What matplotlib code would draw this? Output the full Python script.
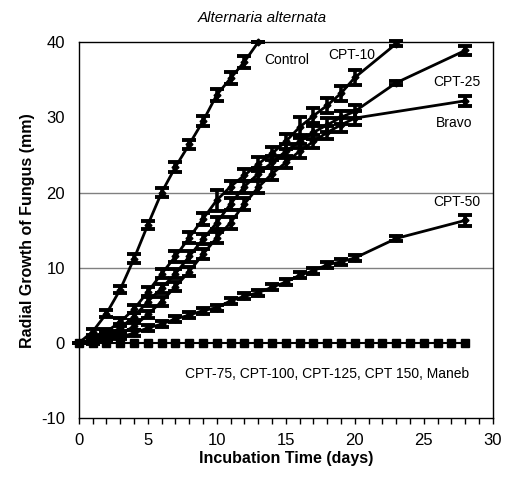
import numpy as np
import matplotlib
matplotlib.use("Agg")
import matplotlib.pyplot as plt
from matplotlib.ticker import MultipleLocator

plt.rcParams['font.family'] = ['Liberation Sans', 'DejaVu Sans']
plt.rcParams['axes.unicode_minus'] = False

# days and radial growth (mm)
days_control = [0, 1, 2, 3, 4, 5, 6, 7, 8, 9, 10, 11, 12, 13]
control = [0, 1.5, 3.9, 7.1, 11.2, 15.7, 20.0, 23.4, 26.4, 29.5, 33.0, 35.2, 37.4, 40.0]
err_control = [0, 0.4, 0.5, 0.5, 0.6, 0.5, 0.6, 0.6, 0.6, 0.7, 0.8, 0.8, 0.8, 0]

days_cpt10 = [0, 1, 2, 3, 4, 5, 6, 7, 8, 9, 10, 11, 12, 13, 14, 15, 16, 17, 18, 19, 20, 23]
cpt10 = [0, 0.5, 1.5, 2.8, 4.5, 6.8, 9.2, 11.5, 14.0, 16.5, 19.0, 20.8, 22.3, 23.8,
         25.2, 26.8, 28.7, 30.2, 31.6, 33.2, 35.3, 39.8]
err_cpt10 = [0, 0.3, 0.4, 0.5, 0.5, 0.6, 0.6, 0.7, 0.7, 0.8, 1.4, 0.8, 0.8, 0.9,
             0.9, 1.0, 1.4, 1.0, 1.0, 1.0, 1.0, 0.3]

days_cpt25 = [0, 1, 2, 3, 4, 5, 6, 7, 8, 9, 10, 11, 12, 13, 14, 15, 16, 17, 18, 19, 20, 23, 28]
cpt25 = [0, 0.3, 1.0, 2.0, 3.5, 5.5, 7.3, 9.2, 11.5, 13.8, 16.0, 18.5, 20.8, 22.5,
         24.0, 25.5, 26.8, 28.0, 29.0, 30.0, 30.8, 34.6, 38.9]
err_cpt25 = [0, 0.3, 0.4, 0.5, 0.5, 0.6, 0.6, 0.6, 0.7, 0.7, 0.8, 0.8, 0.8, 0.8,
             0.8, 0.9, 0.9, 0.9, 0.9, 0.9, 0.9, 0.3, 0.6]

days_bravo = [0, 1, 2, 3, 4, 5, 6, 7, 8, 9, 10, 11, 12, 13, 14, 15, 16, 17, 18, 19, 20, 28]
bravo = [0, 0.2, 0.6, 1.2, 2.2, 3.8, 5.5, 7.5, 9.5, 11.8, 14.0, 16.0, 18.5, 20.7,
         22.5, 24.0, 25.5, 26.8, 28.0, 29.0, 29.9, 32.2]
err_bravo = [0, 0.3, 0.4, 0.4, 0.5, 0.5, 0.6, 0.6, 0.6, 0.7, 0.7, 0.8, 0.8, 0.8,
             0.8, 0.8, 0.9, 0.9, 0.9, 0.9, 0.9, 0.7]

days_cpt50 = [0, 1, 2, 3, 4, 5, 6, 7, 8, 9, 10, 11, 12, 13, 14, 15, 16, 17, 18, 19, 20, 23, 28]
cpt50 = [0, 0.2, 0.4, 0.8, 1.3, 2.0, 2.5, 3.2, 3.7, 4.3, 4.7, 5.6, 6.2, 6.7,
         7.4, 8.1, 9.0, 9.6, 10.4, 10.8, 11.3, 13.9, 16.3]
err_cpt50 = [0, 0.2, 0.3, 0.3, 0.4, 0.4, 0.4, 0.4, 0.4, 0.4, 0.4, 0.4, 0.4, 0.4,
             0.4, 0.4, 0.4, 0.4, 0.4, 0.4, 0.4, 0.3, 0.7]

days_zero = list(range(0, 29))
zero = [0] * len(days_zero)

fig = plt.figure(figsize=(5.05, 4.79), dpi=100)
ax = fig.add_axes([0.156, 0.127, 0.82, 0.785])

ax.axhline(10, color='#808080', lw=1, zorder=1)
ax.axhline(20, color='#808080', lw=1, zorder=1)

ekw = dict(color='black', lw=2, elinewidth=2.6, capsize=4.8, capthick=2.8,
           marker='D', ms=3.5, zorder=3, clip_on=False)
ax.errorbar(days_control, control, yerr=err_control, **ekw)
ax.errorbar(days_cpt10, cpt10, yerr=err_cpt10, **ekw)
ax.errorbar(days_cpt25, cpt25, yerr=err_cpt25, **ekw)
ax.errorbar(days_bravo, bravo, yerr=err_bravo, **ekw)
ax.errorbar(days_cpt50, cpt50, yerr=err_cpt50, **ekw)
ax.plot(days_zero, zero, color='black', lw=1.5, marker='s', ms=5.5, zorder=3, clip_on=False)

fs = 10
ax.text(15.1, 37.6, 'Control', ha='center', va='center', fontsize=fs)
ax.text(19.8, 38.3, 'CPT-10', ha='center', va='center', fontsize=fs)
ax.text(27.4, 34.7, 'CPT-25', ha='center', va='center', fontsize=fs)
ax.text(27.2, 29.2, 'Bravo', ha='center', va='center', fontsize=fs)
ax.text(27.4, 18.8, 'CPT-50', ha='center', va='center', fontsize=fs)
ax.text(18.0, -4.1, 'CPT-75, CPT-100, CPT-125, CPT 150, Maneb',
        ha='center', va='center', fontsize=fs)

ax.set_xlim(0, 30)
ax.set_ylim(-10, 40)
ax.xaxis.set_major_locator(MultipleLocator(5))
ax.xaxis.set_minor_locator(MultipleLocator(1))
ax.yaxis.set_major_locator(MultipleLocator(10))
ax.tick_params(axis='x', which='both', direction='out', length=4, width=1, labelsize=12, pad=7)
ax.tick_params(axis='y', which='both', length=0, labelsize=12, pad=10)
for s in ax.spines.values():
    s.set_linewidth(1)

ax.set_xlabel('Incubation Time (days)', fontsize=11.5, fontweight='bold', labelpad=2)
ax.set_ylabel('Radial Growth of Fungus (mm)', fontsize=11.5, fontweight='bold', labelpad=4)
fig.text(0.52, 0.962, 'Alternaria alternata', ha='center', va='center',
         fontsize=11, style='italic')

fig.savefig('out.png', dpi=100)
